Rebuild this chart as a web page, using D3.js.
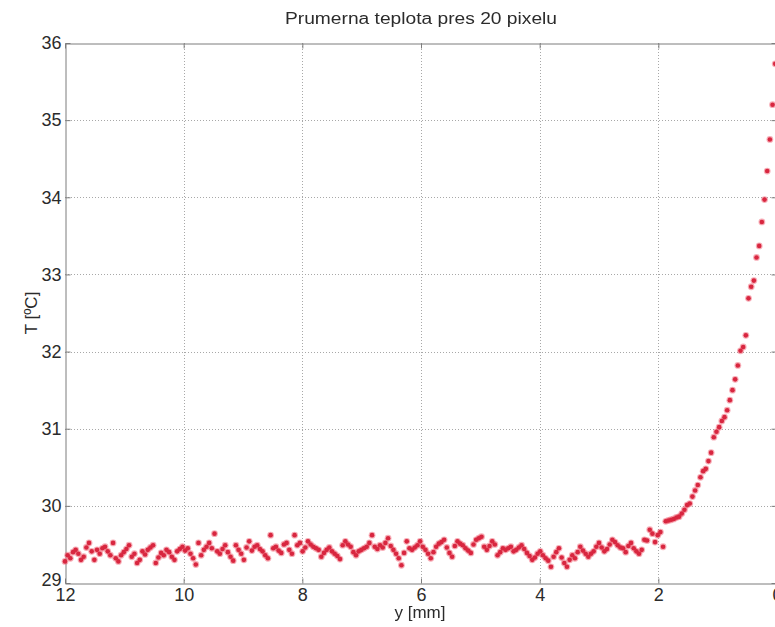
<!DOCTYPE html>
<html>
<head>
<meta charset="utf-8">
<script src="https://cdn.jsdelivr.net/npm/d3@7"></script>
<style>
  html, body { margin: 0; padding: 0; background: #fff; }
  svg { display: block; }
  text { font-family: "Liberation Sans", Arial, sans-serif; fill: #2b2b2b; }
</style>
</head>
<body>
<svg id="chart" width="775" height="627"></svg>
<script>
// Measurement grid: first position (mm) and spacing between samples (mm)
const positionStart = 12;
const positionStep = 0.045;

// Mean temperature over 20 pixels at each sample, from y = 12 mm towards 0 mm
const temperatures = [
  29.28, 29.36, 29.32, 29.40, 29.43, 29.38, 29.30, 29.34, 29.46, 29.52,
  29.41, 29.30, 29.43, 29.38, 29.45, 29.47, 29.41, 29.36, 29.52, 29.32,
  29.28, 29.36, 29.40, 29.44, 29.49, 29.34, 29.38, 29.26, 29.30, 29.41,
  29.37, 29.43, 29.46, 29.49, 29.26, 29.33, 29.39, 29.36, 29.43, 29.40,
  29.34, 29.30, 29.41, 29.44, 29.47, 29.42, 29.45, 29.38, 29.32, 29.24,
  29.52, 29.36, 29.43, 29.47, 29.52, 29.45, 29.64, 29.41, 29.38, 29.44,
  29.49, 29.40, 29.34, 29.29, 29.49, 29.43, 29.38, 29.30, 29.46, 29.54,
  29.42, 29.47, 29.49, 29.44, 29.41, 29.36, 29.32, 29.62, 29.45, 29.47,
  29.42, 29.39, 29.50, 29.52, 29.43, 29.38, 29.62, 29.49, 29.52, 29.41,
  29.46, 29.54, 29.50, 29.47, 29.45, 29.43, 29.34, 29.39, 29.43, 29.46,
  29.41, 29.38, 29.35, 29.31, 29.49, 29.54, 29.50, 29.47, 29.40, 29.36,
  29.41, 29.43, 29.45, 29.47, 29.52, 29.62, 29.47, 29.44, 29.49, 29.46,
  29.52, 29.58, 29.48, 29.43, 29.38, 29.32, 29.23, 29.39, 29.54, 29.45,
  29.43, 29.46, 29.49, 29.54, 29.47, 29.43, 29.38, 29.32, 29.40, 29.47,
  29.51, 29.53, 29.56, 29.46, 29.39, 29.34, 29.48, 29.54, 29.51, 29.49,
  29.45, 29.42, 29.39, 29.50, 29.56, 29.58, 29.60, 29.47, 29.43, 29.48,
  29.54, 29.50, 29.36, 29.40, 29.45, 29.43, 29.45, 29.47, 29.41, 29.43,
  29.46, 29.49, 29.44, 29.39, 29.35, 29.30, 29.33, 29.38, 29.41, 29.36,
  29.32, 29.29, 29.21, 29.34, 29.40, 29.45, 29.33, 29.26, 29.21, 29.30,
  29.36, 29.32, 29.40, 29.47, 29.42, 29.38, 29.34, 29.38, 29.41, 29.47,
  29.52, 29.46, 29.41, 29.44, 29.50, 29.56, 29.53, 29.49, 29.46, 29.45,
  29.40, 29.48, 29.52, 29.45, 29.41, 29.38, 29.43, 29.56, 29.55, 29.69,
  29.64, 29.53, 29.62, 29.66, 29.47, 29.80, 29.81, 29.82, 29.83, 29.85,
  29.86, 29.90, 29.95, 30.01, 30.03, 30.12, 30.20, 30.27, 30.37, 30.45,
  30.48, 30.58, 30.69, 30.89, 30.96, 31.02, 31.10, 31.15, 31.24, 31.37,
  31.50, 31.64, 31.82, 32.01, 32.06, 32.21, 32.69, 32.84, 32.92, 33.22,
  33.37, 33.68, 33.97, 34.34, 34.75, 35.20, 35.73
];

const xTicks = [12, 10, 8, 6, 4, 2, 0];
const yTicks = [29, 30, 31, 32, 33, 34, 35, 36];

const titleText = "Prumerna teplota pres 20 pixelu";
const xLabelText = "y [mm]";
const yLabelText = "T [\u00BAC]";

const points = temperatures.map((t, i) => ({ pos: positionStart - positionStep * i, t }));

const svg = d3.select("#chart");
const plot = { left: 65, right: 777, top: 43, bottom: 583 };

const x = d3.scaleLinear().domain([12, 0]).range([plot.left, plot.right]);
const y = d3.scaleLinear().domain([29, 36]).range([plot.bottom, plot.top]);

// Dotted grid
const grid = svg.append("g").attr("stroke", "#a8a8a8").attr("stroke-width", 1)
  .attr("stroke-dasharray", "1,2");
grid.selectAll("line.gx").data(xTicks.filter(d => d !== 12 && d !== 0)).join("line")
  .attr("x1", d => Math.round(x(d)) + 0.5).attr("x2", d => Math.round(x(d)) + 0.5)
  .attr("y1", plot.top).attr("y2", plot.bottom);
grid.selectAll("line.gy").data(yTicks.filter(d => d !== 29 && d !== 36)).join("line")
  .attr("y1", d => Math.round(y(d)) + 0.5).attr("y2", d => Math.round(y(d)) + 0.5)
  .attr("x1", plot.left).attr("x2", plot.right);

// Axes with inward ticks
const axisColor = "#7d7d7d";
const xAxis = svg.append("g").attr("transform", `translate(0,${plot.bottom + 0.5})`)
  .call(d3.axisBottom(x).tickValues(xTicks).tickFormat(d3.format("d")).tickSizeInner(-5).tickSizeOuter(0).tickPadding(5));
const yAxis = svg.append("g").attr("transform", `translate(${plot.left + 0.5},0)`)
  .call(d3.axisLeft(y).tickValues(yTicks).tickFormat(d3.format("d")).tickSizeInner(-5).tickSizeOuter(0).tickPadding(4));
const xAxisTop = svg.append("g").attr("transform", `translate(0,${plot.top + 0.5})`)
  .call(d3.axisTop(x).tickValues(xTicks).tickFormat("").tickSizeInner(-5).tickSizeOuter(0));
const yAxisRight = svg.append("g").attr("transform", `translate(${plot.right - 0.5},0)`)
  .call(d3.axisRight(y).tickValues(yTicks).tickFormat("").tickSizeInner(-5).tickSizeOuter(0));

[xAxis, yAxis, xAxisTop, yAxisRight].forEach(g => {
  g.select(".domain").attr("stroke", axisColor);
  g.selectAll(".tick line").attr("stroke", axisColor);
  g.selectAll(".tick text").attr("font-size", 18).attr("fill", "#2b2b2b")
    .attr("font-family", "Liberation Sans, Arial, sans-serif");
});
yAxis.selectAll(".tick text").filter(d => d === 29).attr("dy", "0.15em");

// Soft marker filter
const defs = svg.append("defs");
defs.append("filter").attr("id", "soft").attr("x", "-50%").attr("y", "-50%")
  .attr("width", "200%").attr("height", "200%")
  .append("feGaussianBlur").attr("stdDeviation", 0.6);

const marks = svg.append("g").attr("filter", "url(#soft)");
marks.selectAll("circle.halo").data(points).join("circle")
  .attr("class", "halo")
  .attr("cx", d => x(d.pos)).attr("cy", d => y(d.t)).attr("r", 3.4)
  .attr("fill", "#f06a7c").attr("opacity", 0.55);
marks.selectAll("circle.dot").data(points).join("circle")
  .attr("class", "dot")
  .attr("cx", d => x(d.pos)).attr("cy", d => y(d.t)).attr("r", 2.3)
  .attr("fill", "#d8283f");

// Title and axis labels
svg.append("text").attr("x", 421).attr("y", 24).attr("text-anchor", "middle")
  .attr("font-size", 16).attr("textLength", 272).attr("lengthAdjust", "spacingAndGlyphs")
  .text(titleText);
svg.append("text").attr("x", 420).attr("y", 618).attr("text-anchor", "middle")
  .attr("font-size", 17).text(xLabelText);
svg.append("text").attr("transform", "translate(37,313) rotate(-90)")
  .attr("text-anchor", "middle").attr("font-size", 17).text(yLabelText);
</script>
</body>
</html>
